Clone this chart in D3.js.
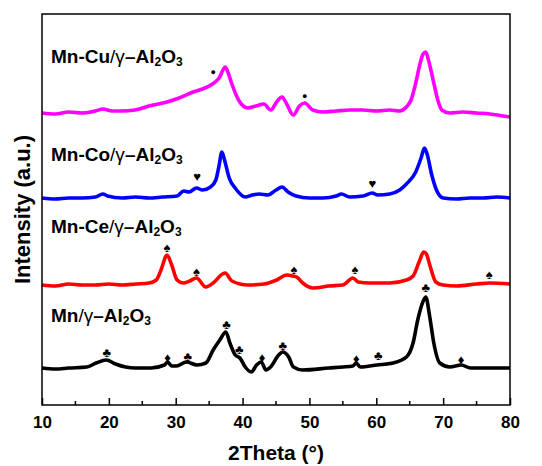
<!DOCTYPE html>
<html>
<head>
<meta charset="utf-8">
<script src="https://cdn.jsdelivr.net/npm/d3@7"></script>
<style>
  body { margin: 0; background: #fff; }
  text { font-family: "Liberation Sans", Arial, sans-serif; }
</style>
</head>
<body>
<svg width="542" height="466"></svg>
<script>
// 2Theta (deg) and intensity (a.u., stacked)
const cuTheta = [10,12,14,16,18,19.1,20.5,22,23.9,26,28.7,30.5,32.6,34,35.5,36.5,37.4,37.8,38.4,39.4,40.8,42,43.2,44.2,45.2,45.9,46.6,47.6,48.5,49.3,50.5,52,54,56,58,60,62,63.5,64.5,65.2,65.9,66.5,67,67.4,67.8,68.6,69.2,69.8,71,73,75,77,79,80];
const cuInt   = [292,291,293,292,294,296,294,294,295,299,303,307,313,316,321,327,338,333,321,305,297,299,301,295,304,308,301,290,299,302,295,293,294,295,295,294,295,294,298,305,322,340,351,353,345,322,305,295,292,293,292,291,289,288];

const coTheta = [10,12,14,16,18,19.1,19.8,22,24,26,28,30.2,31.2,32,33.1,34,35.2,36,36.5,36.9,37.3,38,39,40.4,41.5,42.5,43.8,45,45.9,46.8,48,50,52,54,54.8,56,58,59.4,60.2,62,63.5,64.5,65.9,66.7,67.2,67.6,68.3,69,70,72,74,76,78,80];
const coInt   = [207,206,207,207,208,211,209,207,208,207,208,209,214,213,217,215,218,225,240,253,245,227,216,208,210,211,210,215,218,213,209,207,207,209,211,208,209,212,210,211,215,221,233,247,257,251,230,215,207,206,207,207,208,207];

const ceTheta = [10,12,14,16,18,20,22,24,26,27.1,27.8,28.7,29.4,30.2,31.1,32.1,33.1,34.5,35.6,37,37.4,38.4,40.8,43.2,45.1,46.6,47.5,48.1,49,50.5,52.9,55,56.5,57.3,59,62,64.5,65.5,66.4,67.1,67.5,68,68.9,70,72,75,77,80];
const ceInt   = [120,119,121,120,120,121,120,121,122,125,135,150,140,125,122,124,127,118,122,131,132,124,120,121,125,130,129,128,122,117,119,120,127,123,122,122,125,129,143,153,151,140,123,120,119,121,122,121];

const mnTheta = [10,12,14,16.7,18.1,19.6,21,22.5,24,26.3,28.3,28.8,29.4,30.1,31.6,33.2,34.5,35.6,36.6,37.5,38.1,38.9,39.6,40.4,41.3,42.1,42.8,43.5,44.2,45.4,46,46.9,47.6,49,52.9,55,56.5,57,57.6,60.1,62.5,64.5,65.5,66.2,66.8,67.4,68,68.6,69.5,71,72.7,74.1,77,80];
const mnInt   = [37,36,37,38,42,45,41,38,37,37,40,43,39,39,43,40,42,55,65,73,62,50,47,38,33,40,43,35,38,50,53,48,38,35,37,38,39,42,38,40,42,48,62,85,100,108,88,62,42,38,40,37,37,37];

const seriesNames  = ["Mn-Cu", "Mn-Co", "Mn-Ce", "Mn"];
const seriesColors = ["#ff00ff", "#0000ff", "#ff0000", "#000000"];

// phase markers: [2Theta, intensity, symbol]
const cuMarks = [[35.6,333,"●"],[49.3,309,"●"]];
const coMarks = [[33.2,229,"♥"],[59.4,222,"♥"]];
const ceMarks = [[28.7,158,"♠"],[33.1,134,"♠"],[47.7,136,"♠"],[56.8,136,"♠"],[76.9,131,"♠"]];
const mnMarks = [[19.7,53,"♣"],[28.8,48,"♦"],[31.8,49,"♣"],[37.6,81,"♣"],[39.5,56,"♣"],[42.9,48,"♦"],[46,60,"♣"],[57,47,"♦"],[60.3,50,"♣"],[67.4,118,"♣"],[72.7,46,"♦"]];

const xTicks = [10,20,30,40,50,60,70,80];

const svg = d3.select("svg");
const mLeft = 42, mRight = 510, mTop = 14, mBottom = 405;

const x = d3.scaleLinear().domain([10, 80]).range([mLeft, mRight]);
const y = d3.scaleLinear().domain([0, 391]).range([mBottom, mTop]);

const series = [
  {theta: cuTheta, val: cuInt, marks: cuMarks},
  {theta: coTheta, val: coInt, marks: coMarks},
  {theta: ceTheta, val: ceInt, marks: ceMarks},
  {theta: mnTheta, val: mnInt, marks: mnMarks}
];

const line = d3.line()
  .x(d => x(d[0]))
  .y(d => y(d[1]))
  .curve(d3.curveMonotoneX);

series.forEach((s, i) => {
  const pts = s.theta.map((t, j) => [t, s.val[j]]);
  svg.append("path")
    .attr("d", line(pts))
    .attr("fill", "none")
    .attr("stroke", seriesColors[i])
    .attr("stroke-width", 3.6)
    .attr("stroke-linejoin", "round");
});

series.forEach(s => {
  svg.selectAll(null)
    .data(s.marks)
    .enter().append("text")
    .attr("x", d => x(d[0]))
    .attr("y", d => y(d[1]))
    .attr("dy", "0.35em")
    .attr("text-anchor", "middle")
    .attr("font-family", "DejaVu Sans")
    .attr("font-size", d => d[2] === "●" ? 9 : 13)
    .attr("fill", "#000")
    .text(d => d[2]);
});

// sample labels
const labelY = [63, 161, 233, 322];
seriesNames.forEach((name, i) => {
  const t = svg.append("text")
    .attr("x", 51)
    .attr("y", labelY[i])
    .attr("font-size", 19)
    .attr("font-weight", "bold")
    .attr("fill", "#000");
  t.append("tspan").text(name);
  t.append("tspan").attr("font-weight", "normal").text("/γ");
  t.append("tspan").text("–Al");
  t.append("tspan").attr("font-size", 12).attr("dy", 3).text("2");
  t.append("tspan").attr("dy", -3).text("O");
  t.append("tspan").attr("font-size", 12).attr("dy", 3).text("3");
});

// frame
svg.append("rect")
  .attr("x", mLeft).attr("y", mTop)
  .attr("width", mRight - mLeft).attr("height", mBottom - mTop)
  .attr("fill", "none").attr("stroke", "#000").attr("stroke-width", 1.5);

const xAxis = d3.axisBottom(x)
  .tickValues(xTicks)
  .tickSize(-7)
  .tickPadding(11)
  .tickFormat(d3.format("d"));

const gx = svg.append("g")
  .attr("transform", `translate(0,${mBottom})`)
  .call(xAxis);
gx.select(".domain").remove();
gx.selectAll(".tick line").attr("stroke-width", 1.5);
gx.selectAll(".tick text")
  .attr("font-size", 17)
  .attr("font-weight", "bold")
  .attr("font-family", "Liberation Sans, Arial, sans-serif")
  .attr("fill", "#000");

// minor ticks
svg.append("g").selectAll("line")
  .data(d3.range(15, 80, 10))
  .enter().append("line")
  .attr("x1", d => x(d)).attr("x2", d => x(d))
  .attr("y1", mBottom).attr("y2", mBottom - 4)
  .attr("stroke", "#000").attr("stroke-width", 1.5);

svg.append("text")
  .attr("x", (mLeft + mRight) / 2)
  .attr("y", 460)
  .attr("text-anchor", "middle")
  .attr("font-size", 21)
  .attr("font-weight", "bold")
  .text("2Theta (°)");

svg.append("text")
  .attr("transform", `translate(30,${(mTop + mBottom) / 2}) rotate(-90)`)
  .attr("text-anchor", "middle")
  .attr("font-size", 22)
  .attr("font-weight", "bold")
  .text("Intensity (a.u.)");
</script>
</body>
</html>
